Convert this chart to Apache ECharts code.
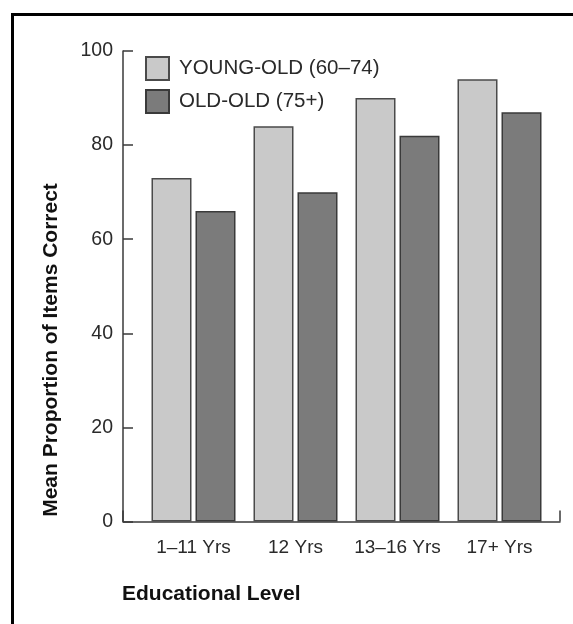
<!DOCTYPE html>
<html>
<head>
<meta charset="utf-8">
<script src="https://cdn.jsdelivr.net/npm/echarts@6/dist/echarts.min.js"></script>
<style>
  html, body { margin: 0; padding: 0; background: #fff; }
  #wrap { position: relative; width: 573px; height: 624px; overflow: hidden; }
  #frame { position: absolute; left: 11px; top: 13px; width: 600px; height: 700px;
           border-left: 3px solid #000; border-top: 3px solid #000; }
  #chart { position: absolute; left: 0; top: 0; width: 573px; height: 624px; }
</style>
</head>
<body>
<div id="wrap">
  <div id="frame"></div>
  <div id="chart"></div>
</div>
<script>
const categories = ['1\u201311 Yrs', '12 Yrs', '13\u201316 Yrs', '17+ Yrs'];
const youngOld = [73, 84, 90, 94];
const oldOld = [66, 70, 82, 87];
const seriesNames = ['YOUNG-OLD (60\u201374)', 'OLD-OLD (75+)'];
const yTicks = [0, 20, 40, 60, 80, 100];

const font = '"Liberation Sans", Arial, Helvetica, sans-serif';
const textColor = '#2a2a2a';
const lineColor = '#3a3a3a';

const chart = echarts.init(document.getElementById('chart'), null, { renderer: 'canvas' });

chart.setOption({
  animation: false,
  textStyle: { fontFamily: font },
  title: {
    text: 'Educational Level',
    left: 122, top: 584, padding: 0,
    textStyle: { fontFamily: font, fontSize: 21, fontWeight: 'bold', color: '#111' }
  },
  legend: {
    orient: 'vertical',
    left: 145, top: 56, padding: 0,
    itemWidth: 23, itemHeight: 23, itemGap: 8,
    icon: 'rect',
    textStyle: { fontFamily: font, fontSize: 20.5, color: textColor, padding: [0, 0, 0, 5] },
    data: seriesNames
  },
  grid: [
    // axis frame: spans the full axis lines
    { left: 123, right: 13, top: 51, bottom: 102.5 },
    // bar area
    { left: 142.5, right: 22.5, top: 51, bottom: 102.5 }
  ],
  xAxis: [
    {
      type: 'value', gridIndex: 0, min: 0, max: 1, interval: 1,
      axisLine: { show: true, lineStyle: { color: lineColor, width: 1.5 } },
      axisTick: { show: true, inside: true, length: 11, lineStyle: { color: lineColor, width: 1.5 } },
      axisLabel: { show: false },
      splitLine: { show: false }
    },
    {
      type: 'category', gridIndex: 1, data: categories,
      axisLine: { show: false },
      axisTick: { show: false },
      axisLabel: { color: textColor, fontSize: 19, margin: 17, interval: 0, fontFamily: font }
    }
  ],
  yAxis: [
    {
      type: 'value', gridIndex: 0, min: 0, max: 100, interval: 20,
      axisLine: { show: true, lineStyle: { color: lineColor, width: 1.5 } },
      axisTick: { show: true, inside: true, length: 10, lineStyle: { color: lineColor, width: 1.5 } },
      axisLabel: {
        color: textColor, fontSize: 19.5, margin: 10, fontFamily: font,
        formatter: v => yTicks.includes(v) ? String(v) : ''
      },
      splitLine: { show: false }
    },
    {
      type: 'value', gridIndex: 1, min: 0, max: 100,
      show: false
    }
  ],
  graphic: [
    {
      type: 'text', x: 51, y: 350, rotation: Math.PI / 2,
      style: {
        text: 'Mean Proportion of Items Correct',
        fontFamily: font, fontSize: 21, fontWeight: 'bold', fill: '#111',
        align: 'center', verticalAlign: 'middle'
      }
    }
  ],
  series: [
    {
      name: seriesNames[0], type: 'bar', xAxisIndex: 1, yAxisIndex: 1,
      data: youngOld, barWidth: 40, barGap: '10%',
      itemStyle: { color: '#c9c9c9', borderColor: '#4a4a4a', borderWidth: 1.5 }
    },
    {
      name: seriesNames[1], type: 'bar', xAxisIndex: 1, yAxisIndex: 1,
      data: oldOld, barWidth: 40, barGap: '10%',
      itemStyle: { color: '#7b7b7b', borderColor: '#3a3a3a', borderWidth: 1.5 }
    }
  ]
});
</script>
</body>
</html>
